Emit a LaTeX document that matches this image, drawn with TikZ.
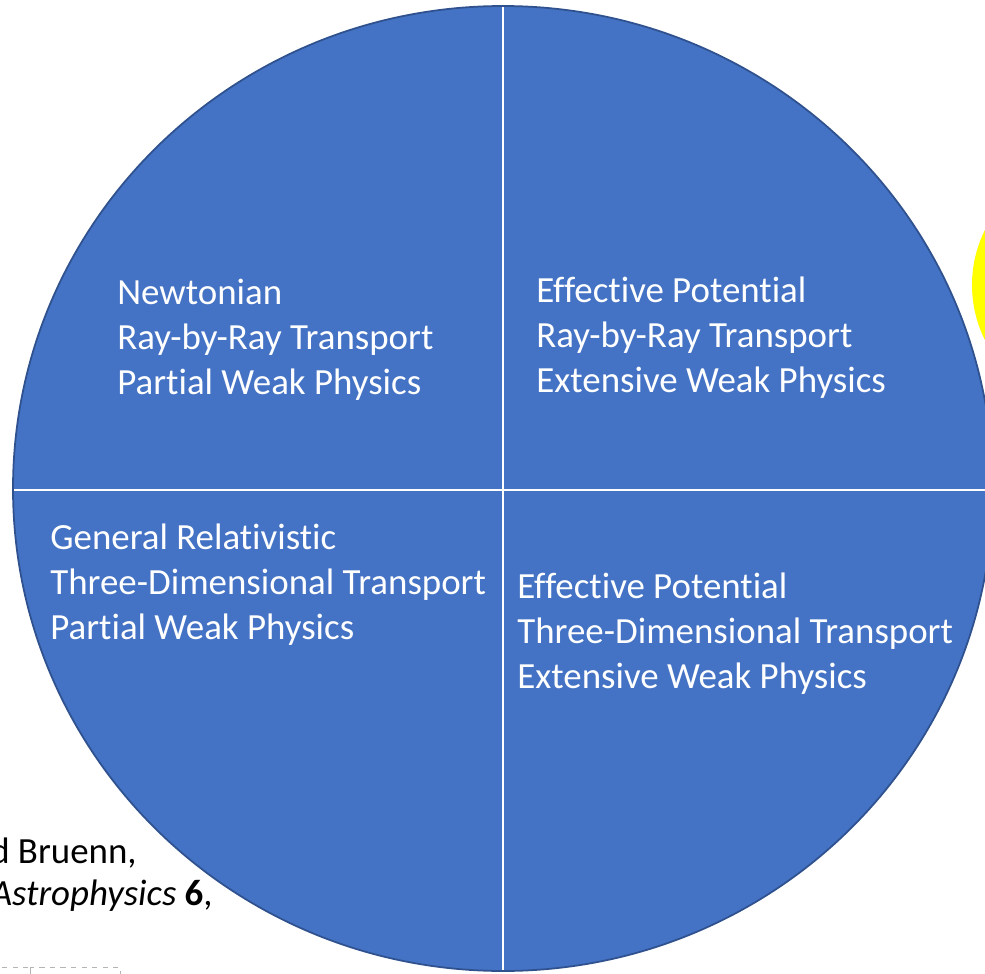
\documentclass[tikz,border=0pt]{standalone}
\usepackage{fontspec}
\setmainfont{Carlito}[Ligatures=NoCommon]
\usepackage{xcolor}
\usepackage{tikz}
\usetikzlibrary{positioning}
\definecolor{quadfill}{HTML}{4472C4}
\definecolor{quadedge}{HTML}{2F528F}
\definecolor{marker}{HTML}{FFFF00}
\definecolor{frame}{HTML}{B4B4B4}
\tikzset{
  quad disc/.style={
    fill=quadfill,
    draw=quadedge,
    line width=1pt
  },
  quad text/.style={
    text=white,
    font=\fontsize{21}{25.6}\selectfont,
    align=left,
    anchor=west,
    inner sep=0pt
  },
  ref text/.style={
    text=black,
    font=\fontsize{21}{25.6}\selectfont,
    anchor=base east,
    inner sep=0pt
  },
  divider/.style={draw=white, line width=1.5pt},
  placeholder/.style={draw=frame, dashed, line width=0.5pt}
}

\begin{document}
\begin{tikzpicture}[x=0.02cm, y=-0.02cm]
  \useasboundingbox (0,0) rectangle (985,974);
  \clip (0,0) rectangle (985,974);

  % Disc and quadrants
  \fill[marker] (1095,285) circle (123);
  \fill[quad disc, draw=none] (503,488.5) ellipse [x radius=490, y radius=482.5];
  \begin{scope}
    \clip (503,488.5) ellipse [x radius=490, y radius=482.5];
    \draw[divider] (503,0) -- (503,974);
    \draw[divider] (0,490) -- (985,490);
  \end{scope}
  \draw[quad disc, fill=none] (503,488.5) ellipse [x radius=490, y radius=482.5];

  % Labels
  \node[quad text] (nw) at (117,340) {Newtonian\\Ray-by-Ray Transport\\Partial Weak Physics};
  \node[quad text] (ne) at (536,338) {Effective Potential\\Ray-by-Ray Transport\\Extensive Weak Physics};
  \node[quad text] (sw) at (50,585) {General Relativistic\\Three-Dimensional Transport\\Partial Weak Physics};
  \node[quad text] (se) at (517,634) {Effective Potential\\Three-Dimensional Transport\\Extensive Weak Physics};

  % Reference
  \node[ref text] (authors) at (137,863) {d Bruenn,};
  \node[ref text] (journal) at (213,905) {\textit{Astrophysics} \textbf{6},};

  % Empty boxes
  \draw[placeholder] (-60,967) rectangle (30,995);
  \draw[placeholder] (30,967) rectangle (120,995);
\end{tikzpicture}
\end{document}
